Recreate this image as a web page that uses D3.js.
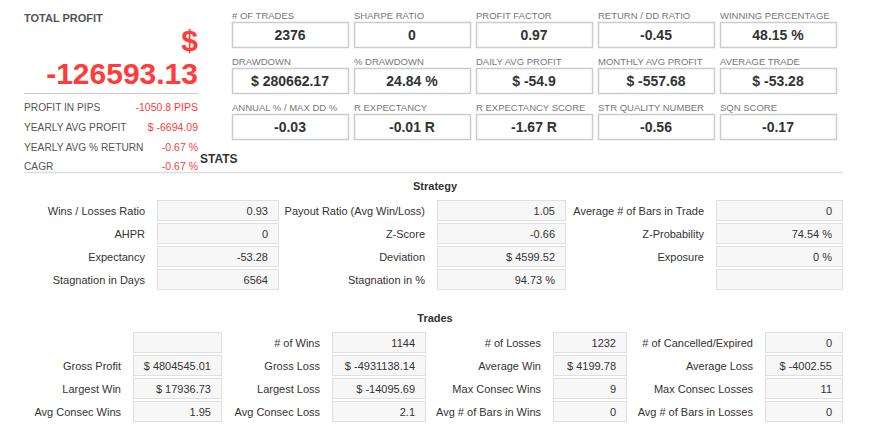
<!DOCTYPE html>
<html><head><meta charset="utf-8">
<script src="https://cdn.jsdelivr.net/npm/d3@7"></script>
<style>
html,body{margin:0;padding:0;background:#fff;}
svg{display:block;font-family:"Liberation Sans",Arial,sans-serif;}
</style></head>
<body><svg id="c" width="869" height="429"></svg>
<script>
const totalProfit = "-126593.13";
const summaryLabels = ["PROFIT IN PIPS","YEARLY AVG PROFIT","YEARLY AVG % RETURN","CAGR"];
const summaryValues = ["-1050.8 PIPS","$ -6694.09","-0.67 %","-0.67 %"];

const topLabels = ["# OF TRADES","SHARPE RATIO","PROFIT FACTOR","RETURN / DD RATIO","WINNING PERCENTAGE",
  "DRAWDOWN","% DRAWDOWN","DAILY AVG PROFIT","MONTHLY AVG PROFIT","AVERAGE TRADE",
  "ANNUAL % / MAX DD %","R EXPECTANCY","R EXPECTANCY SCORE","STR QUALITY NUMBER","SQN SCORE"];
const topValues = ["2376","0","0.97","-0.45","48.15 %",
  "$ 280662.17","24.84 %","$ -54.9","$ -557.68","$ -53.28",
  "-0.03","-0.01 R","-1.67 R","-0.56","-0.17"];

const strategyLabels = [
  ["Wins / Losses Ratio","AHPR","Expectancy","Stagnation in Days"],
  ["Payout Ratio (Avg Win/Loss)","Z-Score","Deviation","Stagnation in %"],
  ["Average # of Bars in Trade","Z-Probability","Exposure",""]];
const strategyValues = [
  ["0.93","0","-53.28","6564"],
  ["1.05","-0.66","$ 4599.52","94.73 %"],
  ["0","74.54 %","0 %",""]];

const tradesLabels = [
  ["","Gross Profit","Largest Win","Avg Consec Wins"],
  ["# of Wins","Gross Loss","Largest Loss","Avg Consec Loss"],
  ["# of Losses","Average Win","Max Consec Wins","Avg # of Bars in Wins"],
  ["# of Cancelled/Expired","Average Loss","Max Consec Losses","Avg # of Bars in Losses"]];
const tradesValues = [
  ["","$ 4804545.01","$ 17936.73","1.95"],
  ["1144","$ -4931138.14","$ -14095.69","2.1"],
  ["1232","$ 4199.78","9","0"],
  ["0","$ -4002.55","11","0"]];

const svg = d3.select("#c");
const RED = "#ff3b3b", DARK = "#333", GREY = "#555";

// ---- Total profit panel
svg.append("text").attr("x",24).attr("y",22).attr("font-size",11).attr("font-weight","bold")
  .attr("fill",GREY).text("TOTAL PROFIT");
svg.append("text").attr("x",198).attr("y",51).attr("text-anchor","end").attr("font-size",30)
  .attr("font-weight","bold").attr("fill",RED).text("$");
svg.append("text").attr("x",198).attr("y",84).attr("text-anchor","end").attr("font-size",30)
  .attr("font-weight","bold").attr("fill",RED).text(totalProfit);
svg.append("line").attr("x1",24).attr("x2",198).attr("y1",93.5).attr("y2",93.5).attr("stroke","#ccc");
const sy = d3.scaleLinear().domain([0,1]).range([111,131]);
const sg = svg.append("g").selectAll("g").data(summaryLabels).join("g");
sg.append("text").attr("x",24).attr("y",(d,i)=>sy(i)-(i===3?1:0)).attr("font-size",10.2).attr("fill",GREY).text(d=>d);
sg.append("text").attr("x",198).attr("y",(d,i)=>sy(i)-(i===3?1:0)).attr("text-anchor","end").attr("font-size",10.5)
  .attr("fill",RED).text((d,i)=>summaryValues[i]);

// ---- Top grid
const gx = d3.scaleLinear().domain([0,1]).range([232,354]);
const gy = d3.scaleLinear().domain([0,1]).range([22,68]);
const tg = svg.append("g").selectAll("g").data(topLabels).join("g")
  .attr("transform",(d,i)=>`translate(${gx(i%5)},${gy(Math.floor(i/5))})`);
tg.append("text").attr("x",0).attr("y",-3).attr("font-size",9.5).attr("fill","#777").text(d=>d);
tg.append("rect").attr("x",0.5).attr("y",0.5).attr("width",116).attr("height",25)
  .attr("fill","#fff").attr("stroke","#ccc").attr("stroke-width",1.5);
tg.append("text").attr("x",58).attr("y",18).attr("text-anchor","middle").attr("font-size",14)
  .attr("font-weight","bold").attr("fill",DARK).text((d,i)=>topValues[i]);

// ---- Stats header
svg.append("text").attr("x",200).attr("y",163).attr("font-size",12).attr("font-weight","bold")
  .attr("fill",DARK).text("STATS");
svg.append("line").attr("x1",24).attr("x2",843).attr("y1",172.5).attr("y2",172.5).attr("stroke","#ddd").attr("stroke-width",1.5);

function table(title, titleY, labels, values, top, labelRight, boxX, boxW){
  svg.append("text").attr("x",435).attr("y",titleY).attr("text-anchor","middle").attr("font-size",11)
    .attr("font-weight","bold").attr("fill",DARK).text(title);
  const ry = d3.scaleLinear().domain([0,1]).range([top, top+23]);
  labels.forEach((col,c)=>{
    const g = svg.append("g").selectAll("g").data(col).join("g")
      .attr("transform",(d,r)=>`translate(0,${ry(r)})`);
    g.append("text").attr("x",labelRight[c]).attr("y",14.5).attr("text-anchor","end")
      .attr("font-size",11).attr("fill",DARK).text(d=>d);
    g.append("rect").attr("x",boxX[c]+0.5).attr("y",0.5).attr("width",boxW[c]).attr("height",20)
      .attr("fill","#f7f7f7").attr("stroke","#e0e0e0").attr("stroke-width",1);
    g.append("text").attr("x",boxX[c]+boxW[c]-10).attr("y",14.5).attr("text-anchor","end")
      .attr("font-size",11).attr("fill",DARK).text((d,r)=>values[c][r]);
  });
}
table("Strategy",190,strategyLabels,strategyValues,200,[145,425,704],[157,437,716],[121,128,126]);
table("Trades",322,tradesLabels,tradesValues,332,[121,320,541,753],[133,332,553,765],[88,93,73,77]);
</script></body></html>
